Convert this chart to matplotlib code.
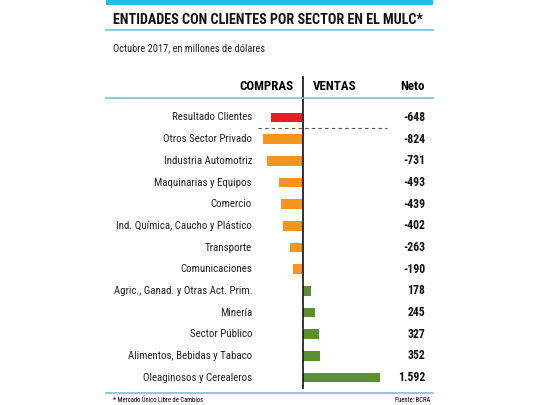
import matplotlib
matplotlib.use("Agg")
import matplotlib.pyplot as plt
from matplotlib.lines import Line2D

plt.rcParams['font.family'] = ['Roboto Condensed', 'DejaVu Sans']

# DATA
sectores = ["Resultado Clientes", "Otros Sector Privado", "Industria Automotriz",
            "Maquinarias y Equipos", "Comercio", "Ind. Química, Caucho y Plástico",
            "Transporte", "Comunicaciones", "Agric., Ganad. y Otras Act. Prim.",
            "Minería", "Sector Público", "Alimentos, Bebidas y Tabaco",
            "Oleaginosos y Cerealeros"]
neto = [-648, -824, -731, -493, -439, -402, -263, -190, 178, 245, 327, 352, 1592]
neto_labels = ["-648", "-824", "-731", "-493", "-439", "-402", "-263", "-190",
               "178", "245", "327", "352", "1.592"]

RED = '#ee1c24'
ORANGE = '#f7941d'
GREEN = '#5a9030'
CYAN = '#1fc0e6'
LINE_CYAN = '#6cc6d8'

W, H = 540, 405


def fx(px):
    return px / W


def fy(py):
    return 1 - py / H


fig = plt.figure(figsize=(5.4, 4.05), dpi=100)

# top band and rules
fig.add_artist(plt.Rectangle((fx(106), fy(5)), fx(327), 5 / H, color=CYAN, lw=0))
fig.add_artist(Line2D([fx(106), fx(433)], [fy(30), fy(30)], color=LINE_CYAN, lw=1.2))
fig.add_artist(Line2D([fx(106), fx(433)], [fy(98), fy(98)], color=LINE_CYAN, lw=1.2))
fig.add_artist(Line2D([fx(106), fx(433)], [fy(393), fy(393)], color=LINE_CYAN, lw=1.2))

fig.text(fx(113), fy(20), "ENTIDADES CON CLIENTES POR SECTOR EN EL MULC*",
         fontsize=10.2, fontweight='heavy', va='center', ha='left', color='#111111')
fig.text(fx(113), fy(48), "Octubre 2017, en millones de dólares",
         fontsize=7.5, va='center', ha='left', color='#222222')

fig.text(fx(294), fy(87), "COMPRAS", fontsize=9.3, fontweight='heavy', ha='right', va='center')
fig.text(fx(313), fy(87), "VENTAS", fontsize=9.3, fontweight='heavy', ha='left', va='center')
fig.text(fx(425), fy(87), "Neto", fontsize=9.3, fontweight='heavy', ha='right', va='center')

fig.text(fx(113), fy(400), "* Mercado Único Libre de Cambios", fontsize=4.8, ha='left', va='center')
fig.text(fx(430), fy(400), "Fuente: BCRA", fontsize=4.8, ha='right', va='center')

# bars
ax = fig.add_axes([fx(254), fy(388.3), fx(131.5), (388.3 - 106.7) / H])
colors = [RED] + [ORANGE if v < 0 else GREEN for v in neto[1:]]
ax.barh(range(len(neto)), neto, height=0.44, color=colors)
ax.set_xlim(-1000, 1700)
ax.set_ylim(len(neto) - 0.5, -0.5)
ax.axis('off')

# zero line extended above the bars
ax.plot([0, 0], [12.5, -0.5 - (106.7 - 77) / 21.67], color='#222222', lw=1.3,
        clip_on=False, zorder=3)
# dashed separator after the total row
ax.plot([-920, 1740], [0.5, 0.5], color='#555555', lw=0.8, ls=(0, (3, 3)), clip_on=False)

for i, (name, lab) in enumerate(zip(sectores, neto_labels)):
    y = fy(117.5 + i * 21.67)
    fig.text(fx(252), y, name, fontsize=7.8, ha='right', va='center', color='#222222')
    fig.text(fx(425), y, lab, fontsize=8.5, fontweight='heavy', ha='right', va='center',
             color='#111111')

fig.savefig("out.png", dpi=100)
